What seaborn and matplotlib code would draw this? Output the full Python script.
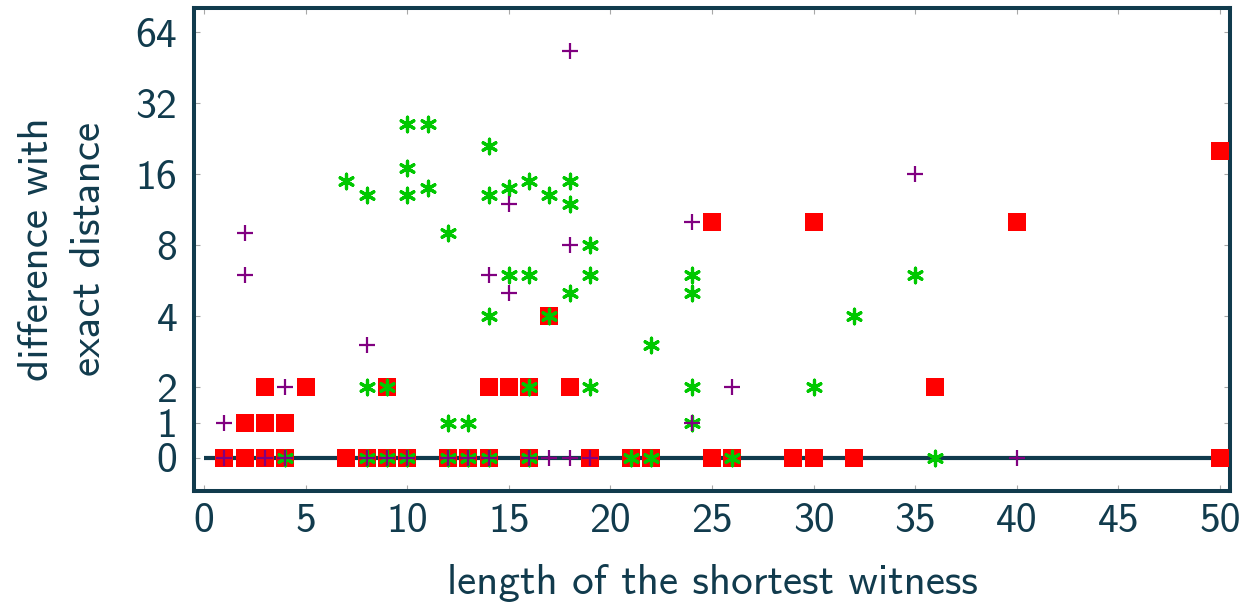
import matplotlib
matplotlib.use("Agg")
import matplotlib.pyplot as plt
import seaborn as sns
import pandas as pd

# Witness length (x) and difference with exact distance (y) for each method
red_x = [1, 2, 3, 4, 7, 8, 9, 10, 12, 13, 14, 16, 19, 21, 22, 25, 26, 29, 30, 32, 50,
         2, 3, 4,
         3, 5, 9, 14, 15, 16, 18, 36,
         17,
         25, 30, 40,
         50]
red_y = [0] * 21 + [1] * 3 + [2] * 8 + [4] + [10] * 3 + [20]

green_x = [4, 8, 9, 10, 12, 13, 14, 16, 21, 22, 26, 36,
           12, 13, 24,
           8, 9, 16, 19, 24, 30,
           22,
           14, 17, 32,
           18, 24,
           15, 16, 19, 24, 35,
           19,
           12,
           18,
           8, 10, 14, 17,
           11, 15,
           7, 16, 18,
           10,
           14,
           10, 11]
green_y = ([0] * 12 + [1] * 3 + [2] * 6 + [3] + [4] * 3 + [5] * 2 + [6] * 5 + [8] + [9]
           + [12] + [13] * 4 + [14] * 2 + [15] * 3 + [17] + [21] + [26] * 2)

purple_x = [1, 3, 4, 8, 9, 10, 12, 13, 14, 16, 17, 18, 19, 40,
            1, 24,
            4, 26,
            8,
            15,
            2, 14,
            18,
            2,
            24,
            15,
            35,
            18]
purple_y = ([0] * 14 + [1] * 2 + [2] * 2 + [3] + [5] + [6] * 2 + [8] + [9] + [10] + [12]
            + [16] + [53])

x_ticks = [0, 5, 10, 15, 20, 25, 30, 35, 40, 45, 50]
y_ticks = [0, 1, 2, 4, 8, 16, 32, 64]

red_df = pd.DataFrame({"length": red_x, "diff": red_y})
green_df = pd.DataFrame({"length": green_x, "diff": green_y})
purple_df = pd.DataFrame({"length": purple_x, "diff": purple_y})

dark = "#113b4d"
tick_grey = "#a8a8a8"

sns.set_theme(style="white")
plt.rcParams["font.family"] = ["cmss10", "DejaVu Sans"]
plt.rcParams["axes.unicode_minus"] = False

fig = plt.figure(figsize=(12.46, 6.08), dpi=100)
ax = fig.add_axes([194 / 1246, 1 - 491 / 608, (1230 - 194) / 1246, (491 - 8) / 608])

# zero baseline across the witness-length range
ax.hlines(0, x_ticks[0], x_ticks[-1], color=dark, linewidth=3.0, zorder=1)

sns.scatterplot(data=red_df, x="length", y="diff", ax=ax, marker="s", s=175,
                color="#ff0000", edgecolor="#ff0000", linewidth=0, zorder=3)
sns.scatterplot(data=green_df, x="length", y="diff", ax=ax, marker=(6, 2, 0), s=110,
                color="#00c800", linewidth=2.3, zorder=4)
sns.scatterplot(data=purple_df, x="length", y="diff", ax=ax, marker="+", s=120,
                color="#800080", linewidth=1.6, zorder=5)

ax.set_yscale("symlog", base=2, linthresh=2, linscale=0.5)
ax.set_xlim(-0.5, 50.5)
ax.set_ylim(-0.93, 81)
ax.set_xticks(x_ticks)
ax.set_xticklabels([str(v) for v in x_ticks])
ax.set_yticks(y_ticks)
ax.set_yticklabels([str(v) for v in y_ticks])
ax.minorticks_off()

ax.tick_params(axis="both", which="major", direction="in", length=4.5, width=0.8,
               color=tick_grey, labelcolor=dark, labelsize=30,
               top=True, right=True, bottom=True, left=True)
ax.tick_params(axis="x", pad=9)
ax.tick_params(axis="y", pad=12)

for side in ax.spines.values():
    side.set_color(dark)
    side.set_linewidth(2.9)
    side.set_visible(True)

ax.set_xlabel("length of the shortest witness", fontsize=31, color=dark, labelpad=17)
ax.set_ylabel("difference with\nexact distance", fontsize=31, color=dark, labelpad=20,
              linespacing=1.45)

fig.savefig("out.png", dpi=100)
